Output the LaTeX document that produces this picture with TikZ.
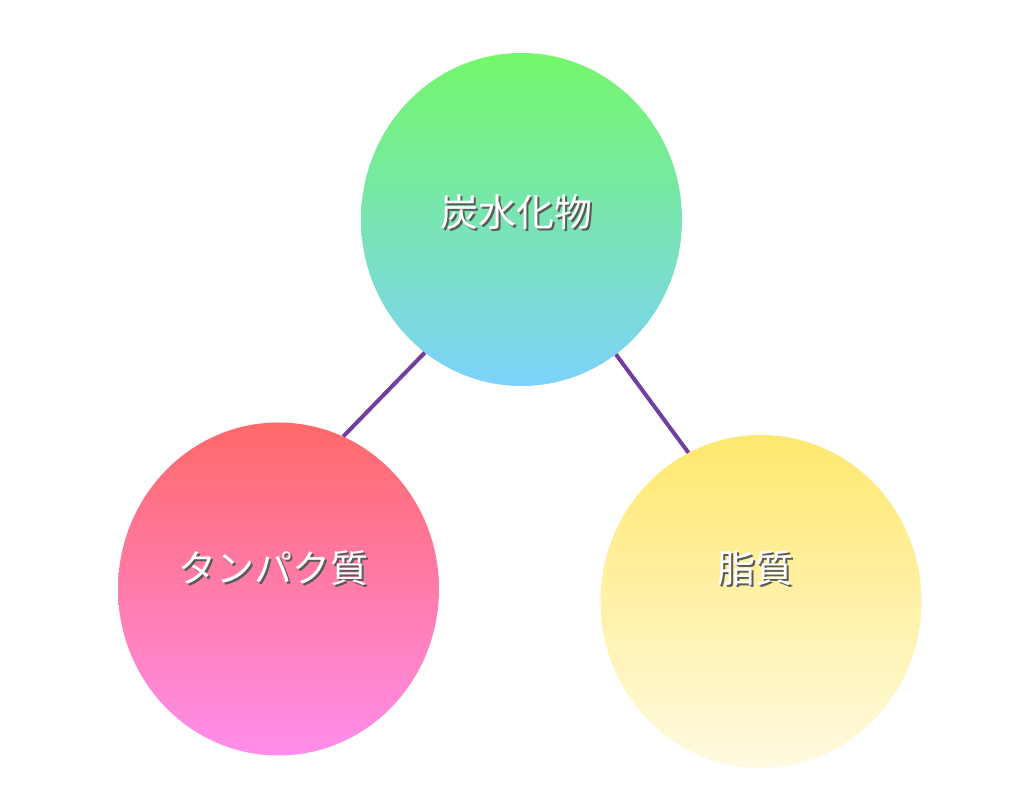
\documentclass[tikz,border=0pt]{standalone}
\usepackage{fontspec}
\newfontfamily\jp{Noto Sans CJK JP}
\usetikzlibrary{shapes.geometric}
\definecolor{linkpurple}{RGB}{112,64,160}
\definecolor{gtop}{RGB}{116,247,106}
\definecolor{gbot}{RGB}{124,210,250}
\definecolor{rtop}{RGB}{255,105,105}
\definecolor{rbot}{RGB}{255,142,236}
\definecolor{ytop}{RGB}{255,232,110}
\definecolor{ybot}{RGB}{255,250,226}
\definecolor{shadowgray}{RGB}{90,90,90}
\newcommand{\shadowtext}[1]{\rlap{\raisebox{-2pt}{\hspace{2pt}\textcolor{shadowgray}{#1}}}#1}
\tikzset{
  bubble/.style={ellipse, minimum width=321pt, minimum height=333pt, inner sep=0pt, draw=none},
  conn/.style={draw=linkpurple, line width=4pt},
  lbl/.style={font=\jp\fontsize{38}{40}\selectfont, text=white, inner sep=0pt},
}
\begin{document}
\begin{tikzpicture}[x=1pt,y=1pt]
\useasboundingbox[fill=white] (0,0) rectangle (1024,809);
% circles
\node[bubble, top color=gtop, bottom color=gbot] (carb) at (521.5,589.5) {};
\node[bubble, top color=rtop, bottom color=rbot] (prot) at (278.5,220) {};
\node[bubble, top color=ytop, bottom color=ybot] (fat) at (761,207.5) {};
% connectors
\draw[conn] (carb.234.7) -- (prot.67);
\draw[conn] (carb.305.1) -- (fat.116.8);
% labels with shadow
\node[lbl] (carbT) at (516,596) {\shadowtext{炭水化物}};
\node[lbl] (protT) at (273,240) {\shadowtext{タンパク質}};
\node[lbl] (fatT) at (755,240) {\shadowtext{脂質}};
\end{tikzpicture}
\end{document}
